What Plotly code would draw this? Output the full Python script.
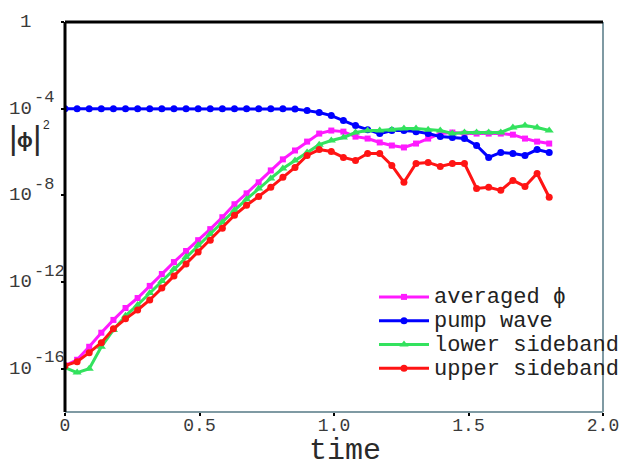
import plotly.graph_objects as go

# sampling times
time = [0.000, 0.045, 0.090, 0.135, 0.180, 0.225, 0.270, 0.315, 0.360, 0.405,
        0.450, 0.495, 0.540, 0.585, 0.630, 0.675, 0.720, 0.765, 0.810, 0.855,
        0.900, 0.945, 0.990, 1.035, 1.080, 1.125, 1.170, 1.215, 1.260, 1.305,
        1.350, 1.395, 1.440, 1.485, 1.530, 1.575, 1.620, 1.665, 1.710, 1.755,
        1.800]

# log10 of |phi|^2
averaged_exp = [-15.86, -15.59, -14.99, -14.34, -13.75, -13.20, -12.74, -12.18, -11.63, -11.08,
                -10.57, -10.07, -9.56, -9.01, -8.41, -7.91, -7.40, -6.85, -6.34, -5.93,
                -5.52, -5.15, -5.01, -5.06, -5.29, -5.38, -5.56, -5.70, -5.79, -5.61,
                -5.38, -5.15, -5.10, -5.15, -5.15, -5.15, -5.15, -5.20, -5.38, -5.52,
                -5.61]
pump_exp = [-4.00, -4.00, -4.00, -4.00, -4.00, -4.00, -4.00, -4.00, -4.00, -4.00,
            -4.00, -4.00, -4.00, -4.00, -4.00, -4.00, -4.00, -4.00, -4.00, -4.02,
            -4.09, -4.18, -4.32, -4.55, -4.78, -4.97, -5.15, -5.01, -5.01, -5.06,
            -5.15, -5.29, -5.33, -5.38, -5.70, -6.25, -6.02, -6.07, -6.16, -5.89,
            -6.02]
lower_exp = [-15.95, -16.18, -16.00, -14.99, -14.21, -13.56, -13.06, -12.51, -11.95, -11.40,
             -10.85, -10.30, -9.79, -9.24, -8.69, -8.18, -7.68, -7.22, -6.76, -6.39,
             -6.02, -5.66, -5.47, -5.33, -5.10, -5.01, -5.01, -4.97, -4.92, -4.92,
             -4.97, -5.01, -5.15, -5.10, -5.10, -5.10, -5.10, -4.87, -4.78, -4.87,
             -5.01]
upper_exp = [-15.86, -15.68, -15.26, -14.80, -14.16, -13.70, -13.29, -12.83, -12.28, -11.72,
             -11.17, -10.62, -10.07, -9.52, -8.92, -8.46, -8.05, -7.63, -7.17, -6.71,
             -6.16, -5.89, -5.98, -6.25, -6.39, -6.07, -6.07, -6.62, -7.40, -6.53,
             -6.48, -6.67, -6.53, -6.53, -7.68, -7.63, -7.77, -7.31, -7.59, -6.99,
             -8.09]

series_names = ["averaged \u03d5", "pump wave", "lower sideband", "upper sideband"]

xtick_vals = [0, 0.5, 1.0, 1.5, 2.0]
xtick_text = ["0", "0.5", "1.0", "1.5", "2.0"]
ytick_exps = [0, -4, -8, -12, -16]
ytick_base = ["1", "10", "10", "10", "10"]
ytick_sup = ["", "-4", "-8", "-12", "-16"]

MONO = "Liberation Mono"
series = [
    (averaged_exp, series_names[0], "#ff1aff", "square", 6),
    (pump_exp, series_names[1], "#0000ff", "circle", 7),
    (lower_exp, series_names[2], "#33e25e", "triangle-up", 8),
    (upper_exp, series_names[3], "#ff1414", "circle", 7),
]

fig = go.Figure()
for exps, name, color, sym, size in series:
    fig.add_trace(go.Scatter(
        x=time, y=[10 ** e for e in exps], mode="lines+markers",
        name='<span style="font-size:22px">' + name + '</span>',
        line=dict(color=color, width=3),
        marker=dict(color=color, symbol=sym, size=size, line=dict(width=0)),
    ))

annotations = []
for e, b, s in zip(ytick_exps, ytick_base, ytick_sup):
    annotations.append(dict(x=0, xref="paper", y=e, yref="y", text=b, showarrow=False,
                            xanchor="left", yanchor="middle",
                            xshift=(-47 if s == "" else -58),
                            font=dict(family=MONO, size=19, color="#3a3a3a")))
    if s:
        annotations.append(dict(x=0, xref="paper", y=e, yref="y", text=s, showarrow=False,
                                xanchor="left", yanchor="middle", xshift=-33, yshift=11,
                                font=dict(family=MONO, size=17, color="#3a3a3a")))

# axis titles
annotations.append(dict(x=(345 - 65) / 538, xref="paper", y=(412 - 451) / 390, yref="paper", text="time",
                        showarrow=False, xanchor="center", yanchor="middle",
                        font=dict(family=MONO, size=30, color="#2a2a2a")))
ylab_y = (412 - 137) / 390
annotations += [
    dict(x=(13 - 65) / 538, xref="paper", y=ylab_y, yref="paper", text="|", showarrow=False,
         xanchor="center", yanchor="middle", font=dict(family="Liberation Sans", size=33, color="#2a2a2a")),
    dict(x=(25 - 65) / 538, xref="paper", y=(412 - 139) / 390, yref="paper", text="<b>\u03d5</b>", showarrow=False,
         xanchor="center", yanchor="middle", font=dict(family="Liberation Sans", size=21, color="#2a2a2a")),
    dict(x=(37 - 65) / 538, xref="paper", y=ylab_y, yref="paper", text="|", showarrow=False,
         xanchor="center", yanchor="middle", font=dict(family="Liberation Sans", size=33, color="#2a2a2a")),
    dict(x=(46 - 65) / 538, xref="paper", y=(412 - 125) / 390, yref="paper", text="2", showarrow=False,
         xanchor="center", yanchor="middle", font=dict(family="Liberation Sans", size=12, color="#2a2a2a")),
]

gray = "#7f9aa3"
shapes = [
    dict(type="line", xref="paper", yref="paper", x0=0, x1=1, y0=0, y1=0, line=dict(color=gray, width=2)),
    dict(type="line", xref="paper", yref="paper", x0=1, x1=1, y0=0, y1=1, line=dict(color=gray, width=2)),
    dict(type="line", xref="paper", yref="paper", x0=0, x1=1, y0=1, y1=1, line=dict(color="black", width=3)),
    dict(type="line", xref="paper", yref="paper", x0=0, x1=0, y0=0, y1=1, line=dict(color="black", width=3)),
]

fig.update_layout(
    width=623, height=468,
    margin=dict(l=65, r=20, t=22, b=56, autoexpand=False),
    paper_bgcolor="white", plot_bgcolor="white",
    xaxis=dict(range=[0, 2.0], tickvals=xtick_vals, ticktext=xtick_text, showgrid=False,
               zeroline=False, showline=False, ticks="outside", ticklen=3, tickwidth=2,
               tickcolor="black", tickfont=dict(family=MONO, size=18, color="#3a3a3a"),
               automargin=False, ticklabelstandoff=-7),
    yaxis=dict(type="log", range=[-18, 0], tickvals=[10 ** e for e in ytick_exps],
               showticklabels=False, showgrid=False, zeroline=False, showline=False,
               ticks="outside", ticklen=3, tickwidth=2, tickcolor="black", automargin=False),
    legend=dict(x=(374 - 65) / 538, y=(412 - 280) / 390, xanchor="left", yanchor="top",
                font=dict(family=MONO, size=16, color="#222222"), bgcolor="rgba(0,0,0,0)",
                itemwidth=50),
    annotations=annotations,
    shapes=shapes,
    showlegend=True,
)

fig.write_html("out.html")
